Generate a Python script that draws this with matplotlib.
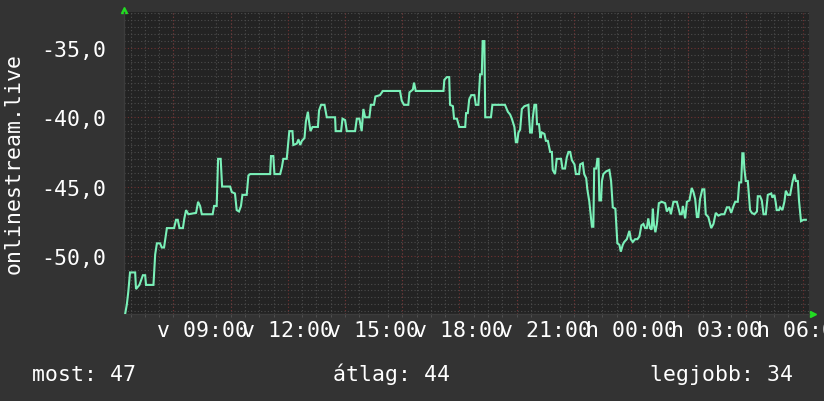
import matplotlib

matplotlib.use("Agg")
import matplotlib.pyplot as plt
from matplotlib.ticker import FixedLocator, MultipleLocator

# time in hours since Sunday 00:00 (24 = Monday 00:00), value in dB
HOURS = [
    6.31, 6.37, 6.42, 6.48, 6.66, 6.69, 6.81, 6.93, 7.01, 7.04, 7.30, 7.36, 7.42, 7.53,
    7.59, 7.67, 7.72, 7.77, 8.02, 8.09, 8.15, 8.21, 8.33, 8.38, 8.44, 8.52, 8.79, 8.86,
    8.93, 8.99, 9.37, 9.42, 9.51, 9.56, 9.65, 9.70, 9.98, 10.04, 10.15, 10.21, 10.29,
    10.36, 10.41, 10.56, 10.62, 10.68, 11.38, 11.41, 11.49, 11.53, 11.73, 11.79, 11.84,
    11.96, 12.00, 12.05, 12.16, 12.19, 12.31, 12.37, 12.43, 12.49, 12.58, 12.63, 12.70,
    12.74, 12.79, 12.86, 13.05, 13.09, 13.16, 13.28, 13.36, 13.65, 13.67, 13.86, 13.91,
    14.00, 14.06, 14.35, 14.41, 14.50, 14.58, 14.64, 14.70, 14.85, 14.90, 15.01, 15.06,
    15.22, 15.32, 15.92, 15.98, 16.06, 16.21, 16.25, 16.37, 16.41, 16.47, 17.44, 17.47,
    17.56, 17.64, 17.67, 17.77, 17.81, 17.91, 17.99, 18.20, 18.23, 18.29, 18.34, 18.41,
    18.52, 18.57, 18.66, 18.72, 18.78, 18.81, 18.87, 18.90, 19.10, 19.15, 19.59, 19.69,
    19.77, 19.83, 19.92, 19.97, 20.02, 20.06, 20.12, 20.18, 20.27, 20.41, 20.43, 20.47,
    20.53, 20.56, 20.62, 20.68, 20.71, 20.78, 20.83, 20.88, 20.97, 21.02, 21.09, 21.17,
    21.23, 21.26, 21.34, 21.40, 21.55, 21.60, 21.69, 21.75, 21.81, 21.87, 21.93, 22.02,
    22.07, 22.18, 22.22, 22.31, 22.36, 22.43, 22.47, 22.54, 22.63, 22.68, 22.71, 22.78,
    22.82, 22.86, 22.89, 22.95, 22.98, 23.03, 23.13, 23.24, 23.30, 23.36, 23.45, 23.52,
    23.59, 23.64, 23.71, 23.76, 23.85, 23.94, 23.99, 24.06, 24.14, 24.22, 24.29, 24.36,
    24.43, 24.49, 24.55, 24.60, 24.66, 24.72, 24.76, 24.80, 24.85, 24.90, 24.97, 25.07,
    25.19, 25.25, 25.34, 25.39, 25.48, 25.60, 25.65, 25.71, 25.77, 25.81, 25.89, 25.95,
    26.04, 26.12, 26.18, 26.24, 26.30, 26.35, 26.41, 26.49, 26.56, 26.61, 26.70, 26.80,
    26.88, 26.96, 27.05, 27.15, 27.26, 27.35, 27.43, 27.50, 27.58, 27.64, 27.73, 27.78,
    27.85, 27.89, 27.93, 27.96, 28.01, 28.08, 28.16, 28.22, 28.31, 28.40, 28.43, 28.51,
    28.57, 28.63, 28.71, 28.78, 28.90, 28.94, 29.01, 29.06, 29.09, 29.17, 29.21, 29.29,
    29.36, 29.41, 29.48, 29.56, 29.64, 29.71, 29.76, 29.83, 29.87, 29.94, 30.03, 30.11,
]
VALUES = [
    -54.2, -53.5, -52.6, -51.2, -51.2, -52.4, -52.1, -51.4, -51.4, -52.1, -52.1, -49.9, -49.1, -49.1,
    -49.4, -49.4, -48.7, -48.0, -48.0, -47.4, -47.4, -48.0, -48.0, -47.3, -46.7, -47.0, -46.9, -46.1,
    -46.4, -47.0, -47.0, -46.4, -46.4, -43.0, -43.0, -45.0, -45.0, -45.4, -45.5, -46.7, -46.8,
    -46.4, -45.6, -45.6, -44.2, -44.1, -44.1, -42.8, -42.8, -44.1, -44.1, -43.6, -43.0,
    -43.0, -42.1, -41.0, -41.0, -42.0, -41.9, -41.6, -42.0, -41.7, -41.5, -40.3, -39.6,
    -40.3, -41.0, -40.7, -40.7, -39.5, -39.1, -39.1, -40.0, -40.0, -41.0, -41.0, -40.1,
    -40.2, -41.0, -41.0, -40.1, -40.1, -41.0, -39.4, -40.0, -40.0, -39.1, -39.1, -38.5,
    -38.4, -38.1, -38.1, -38.8, -39.1, -39.1, -38.2, -38.0, -37.5, -38.1, -38.1, -37.3,
    -37.1, -37.1, -39.1, -39.2, -40.1, -40.1, -40.7, -40.7, -39.7, -39.7, -38.7, -38.4,
    -38.4, -39.1, -39.1, -36.9, -36.9, -34.5, -34.5, -40.0, -40.0, -39.1, -39.1, -39.6,
    -39.8, -40.1, -40.7, -41.8, -41.8, -41.1, -40.9, -39.4, -39.2, -39.1, -39.9, -41.1,
    -41.1, -40.1, -39.1, -39.1, -40.5, -40.5, -41.5, -41.1, -41.2, -41.7, -41.7, -42.5,
    -42.5, -43.8, -44.1, -43.0, -43.0, -43.7, -43.7, -42.9, -42.5, -42.5, -43.1, -43.4,
    -44.1, -44.1, -43.4, -43.3, -44.1, -44.4, -45.2, -46.1, -47.9, -47.9, -43.7, -43.7,
    -43.0, -43.0, -46.0, -46.0, -44.6, -44.1, -43.9, -43.8, -44.6, -46.5, -46.6, -49.1,
    -49.2, -49.7, -49.2, -49.0, -48.8, -48.2, -48.8, -49.0, -48.8, -48.8, -48.6, -47.8,
    -47.7, -48.0, -48.0, -47.3, -48.0, -48.1, -46.6, -47.8, -48.3, -47.7, -46.2, -46.1,
    -46.2, -46.8, -46.5, -47.0, -46.1, -46.1, -46.5, -47.0, -47.0, -46.4, -47.3, -46.1,
    -46.0, -45.1, -45.4, -45.9, -47.2, -47.2, -45.9, -45.2, -45.2, -47.0, -47.2, -48.0,
    -47.7, -46.9, -47.1, -47.0, -47.0, -46.5, -46.5, -46.9, -46.4, -46.1, -46.1, -44.7,
    -44.7, -42.6, -42.6, -43.7, -44.6, -44.6, -46.7, -46.9, -47.0, -46.8, -45.7, -45.7,
    -46.0, -47.0, -47.0, -45.6, -45.5, -45.8, -45.6, -46.2, -46.7, -46.7, -46.5, -46.7,
    -46.1, -45.3, -45.6, -45.6, -44.7, -44.1, -44.6, -44.6, -46.0, -47.5, -47.4, -47.4,
]

X_TICKS = [9, 12, 15, 18, 21, 24, 27, 30]
X_LABELS = ["v 09:00", "v 12:00", "v 15:00", "v 18:00",
            "v 21:00", "h 00:00", "h 03:00", "h 06:00"]
X_MAJOR_GRID = list(range(8, 31, 2))
Y_TICKS = [-50, -45, -40, -35]
Y_LABELS = ["-50,0", "-45,0", "-40,0", "-35,0"]
TITLE = "onlinestream.live"
SUMMARY = ["most: 47", "átlag: 44", "legjobb: 34"]

BG = "#333333"
PLOT_BG = "#232323"
LINE = "#7af0b8"
MINOR = "#4c4c4c"
MAJOR = "#723232"
ARROW = "#22dd22"
FONT = "DejaVu Sans Mono"
FS = 15.5

plt.rcParams["font.family"] = [FONT, "DejaVu Sans"]

fig = plt.figure(figsize=(8.24, 4.02), dpi=100, facecolor=BG)
ax = fig.add_axes([124 / 824, 1 - 315 / 402, 685 / 824, 302 / 402])
ax.set_facecolor(PLOT_BG)

ax.set_xlim(6.27, 30.22)
ax.set_ylim(-54.2, -32.4)

# grid: minor every 30 min / 0.5 dB, red major every 2 h / 5 dB
ax.xaxis.set_minor_locator(MultipleLocator(0.5))
ax.yaxis.set_minor_locator(MultipleLocator(0.5))
ax.grid(which="minor", color=MINOR, linestyle=(0, (1, 2)), linewidth=0.8)
ax.grid(which="major", axis="y", color=MAJOR, linestyle=(0, (1, 2)), linewidth=0.8)
for h in X_MAJOR_GRID:
    ax.axvline(h, color=MAJOR, linestyle=(0, (1, 2)), linewidth=0.8, zorder=0.6)
ax.set_axisbelow(True)

ax.plot(HOURS, VALUES, color=LINE, linewidth=1.5, solid_joinstyle="miter", zorder=3)

ax.xaxis.set_major_locator(FixedLocator(X_TICKS))
ax.set_xticklabels(X_LABELS)
ax.yaxis.set_major_locator(FixedLocator(Y_TICKS))
ax.set_yticklabels(Y_LABELS)
ax.tick_params(which="major", axis="x", length=0, pad=4, labelsize=FS, colors="white")
ax.tick_params(which="major", axis="y", length=0, pad=13, labelsize=FS, colors="white")
ax.tick_params(which="minor", axis="x", direction="out", length=2, color="#555555")
ax.tick_params(which="minor", axis="y", length=0)

for s in ("top", "right"):
    ax.spines[s].set_visible(False)
for s in ("left", "bottom"):
    ax.spines[s].set_color("#3c3c3c")
    ax.spines[s].set_linewidth(1.0)

# axis arrows
ax.plot([0], [1.008], marker="^", color=ARROW, markersize=5, transform=ax.transAxes,
        clip_on=False, linestyle="none")
ax.plot([1.006], [0.0], marker=">", color=ARROW, markersize=5, transform=ax.transAxes,
        clip_on=False, linestyle="none")

fig.text(0.017, 1 - 164 / 402, TITLE, rotation=90, ha="center", va="center",
         color="white", fontsize=FS)

base = 1 - 381 / 402
fig.text(32 / 824, base, SUMMARY[0], ha="left", va="baseline", color="white", fontsize=FS)
fig.text(333 / 824, base, SUMMARY[1], ha="left", va="baseline", color="white", fontsize=FS)
fig.text(650 / 824, base, SUMMARY[2], ha="left", va="baseline", color="white", fontsize=FS)

fig.savefig("out.png", dpi=100, facecolor=BG)
